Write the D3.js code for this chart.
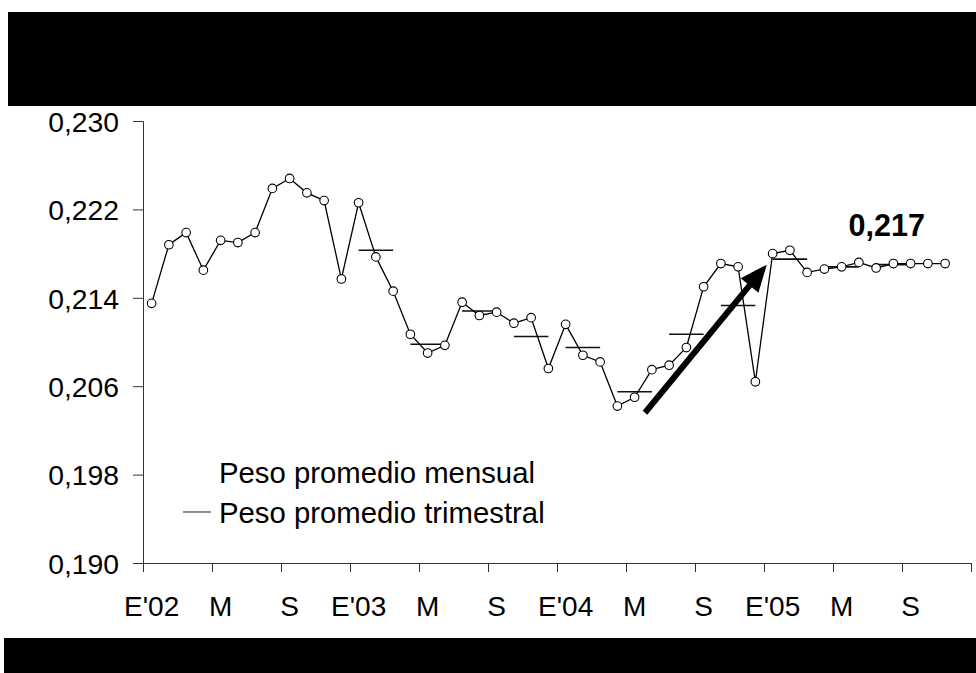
<!DOCTYPE html>
<html><head><meta charset="utf-8">
<script src="https://cdn.jsdelivr.net/npm/d3@7"></script>
<style>
html,body{margin:0;padding:0;background:#fff;}
svg{display:block;}
text{font-family:"Liberation Sans",Arial,Helvetica,sans-serif;fill:#000;}
</style></head>
<body>
<svg id="chart" width="976" height="673"></svg>
<script>
// ---- data ----
const monthIndex = d3.range(48); // Jan 2002 .. Dec 2005
const monthlyValues = [
  0.2135,0.2188,0.2199,0.2165,0.2192,0.2190,0.2199,0.2239,0.2248,0.2235,0.2228,0.2157,
  0.2226,0.2177,0.2146,0.2107,0.2090,0.2097,0.2136,0.2124,0.2127,0.2117,0.2122,0.2076,
  0.2116,0.2088,0.2082,0.2042,0.2050,0.2075,0.2079,0.2095,0.2150,0.2171,0.2168,0.2064,
  0.2180,0.2183,0.2163,0.2166,0.2168,0.2172,0.2167,0.2171,0.2171,0.2171,0.2171
];
const quarterStartMonth = [12,15,18,21,24,27,30,33,36,39,42];
const quarterlyValues = [0.2183,0.2098,0.2128,0.2105,0.2095,0.2055,0.2107,0.2133,0.2175,0.2168,0.2170];
const xTickLabels = ["E'02","M","S","E'03","M","S","E'04","M","S","E'05","M","S"];
const yTickValues = [0.190,0.198,0.206,0.214,0.222,0.230];
const legendLabels = ["Peso promedio mensual","Peso promedio trimestral"];
const arrowFrom = {m:28.6, v:0.2036};
const arrowTo = {m:35.66, v:0.2170};
const noteLabel = "0,217";
const notePos = {m:40.4, v:0.2196};

// ---- layout ----
(function(){
const svg = d3.select("#chart");
const W = 976, H = 673;
const pLeft = 143, pRight = 971, pTop = 121, pBottom = 563;

// black bands
svg.append("rect").attr("x",8).attr("y",12).attr("width",W-8).attr("height",94).attr("fill","#000");
svg.append("rect").attr("x",4).attr("y",638).attr("width",W-4).attr("height",H-638).attr("fill","#000");

const x = d3.scaleBand().domain(monthIndex).range([pLeft,pRight]).padding(0);
const xm = d3.scaleLinear().domain([0,48]).range([pLeft,pRight]);
const xc = m => xm(m + 0.5);
const y = d3.scaleLinear().domain([0.190,0.230]).range([pBottom,pTop]);

const locale = d3.formatLocale({decimal:",",thousands:".",grouping:[3],currency:["","€"]});
const fmt = locale.format(".3f");

// y axis
const yAxis = svg.append("g").attr("transform",`translate(${pLeft},0)`)
  .call(d3.axisLeft(y).tickValues(yTickValues).tickFormat(fmt).tickSize(10).tickPadding(14));
yAxis.select(".domain").attr("stroke","#333");
yAxis.selectAll(".tick line").attr("stroke","#333");
yAxis.selectAll("text").attr("font-size",28.3).attr("dy","0.36em")
  .style("font-family",'"Liberation Sans",Arial,sans-serif').attr("fill","#000");

// x axis
const xAxis = svg.append("g").attr("transform",`translate(0,${pBottom})`)
  .call(d3.axisBottom(xm).tickValues(d3.range(0,49,4)).tickFormat("").tickSize(9).tickSizeOuter(0));
xAxis.select(".domain").attr("stroke","#333");
xAxis.selectAll(".tick line").attr("stroke","#333");
svg.append("g").selectAll("text").data(xTickLabels).join("text")
  .attr("x",(d,i)=>x(i*4)+x.bandwidth()/2).attr("y",pBottom+53)
  .attr("text-anchor","middle").attr("font-size",28).text(d=>d);

// quarterly segments
svg.append("g").selectAll("line").data(quarterlyValues).join("line")
  .attr("x1",(d,i)=>xc(quarterStartMonth[i])).attr("x2",(d,i)=>xc(quarterStartMonth[i]+2))
  .attr("y1",d=>y(d)).attr("y2",d=>y(d))
  .attr("stroke","#111").attr("stroke-width",1.6);

// monthly line
const line = d3.line().x((d,i)=>x(i)+x.bandwidth()/2).y(d=>y(d));
svg.append("path").datum(monthlyValues).attr("d",line)
  .attr("fill","none").attr("stroke","#000").attr("stroke-width",1.3);
svg.append("g").selectAll("circle").data(monthlyValues).join("circle")
  .attr("cx",(d,i)=>x(i)+x.bandwidth()/2).attr("cy",d=>y(d)).attr("r",4.3)
  .attr("fill","#fff").attr("stroke","#000").attr("stroke-width",1.1);

// arrow annotation
const ax1 = xc(arrowFrom.m), ay1 = y(arrowFrom.v), ax2 = xc(arrowTo.m), ay2 = y(arrowTo.v);
const dx = ax2-ax1, dy = ay2-ay1, len = Math.hypot(dx,dy), ux = dx/len, uy = dy/len;
const headL = 27, headW = 11.5;
const bx = ax2-ux*headL, by = ay2-uy*headL;
svg.append("line").attr("x1",ax1).attr("y1",ay1).attr("x2",bx+ux*2).attr("y2",by+uy*2)
  .attr("stroke","#000").attr("stroke-width",6);
svg.append("path").attr("d",`M${ax2},${ay2}L${bx-uy*headW},${by+ux*headW}L${bx+uy*headW},${by-ux*headW}Z`)
  .attr("fill","#000");

// note label
svg.append("text").attr("x",xc(notePos.m)).attr("y",y(notePos.v))
  .attr("font-size",30.5).attr("font-weight","bold").text(noteLabel);

// legend
const lg = svg.append("g");
lg.append("text").attr("x",219).attr("y",483).attr("font-size",29.3).text(legendLabels[0]);
lg.append("line").attr("x1",183).attr("x2",211).attr("y1",512).attr("y2",512)
  .attr("stroke","#444").attr("stroke-width",1.2);
lg.append("text").attr("x",219).attr("y",523).attr("font-size",29.3).text(legendLabels[1]);
})();
</script>
</body></html>
